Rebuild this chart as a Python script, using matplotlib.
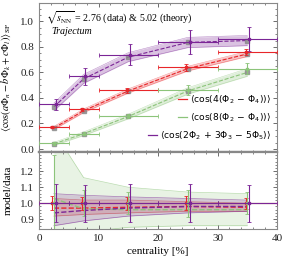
import matplotlib
matplotlib.use("Agg")
import matplotlib.pyplot as plt
from matplotlib.font_manager import FontProperties
from matplotlib.ticker import MultipleLocator, FixedLocator

plt.rcParams['font.family'] = ['Liberation Serif', 'DejaVu Serif']
plt.rcParams['mathtext.fontset'] = 'stix'

# centrality bins
bin_lo = [0, 5, 10, 20, 30]
bin_hi = [5, 10, 20, 30, 40]
x_mid = [2.5, 7.5, 15, 25, 35]

labels = [r'$\langle\cos(4(\Phi_2\,-\,\Phi_4))\rangle$',
          r'$\langle\cos(8(\Phi_2\,-\,\Phi_4))\rangle$',
          r'$\langle\cos(2\Phi_2\,+\,3\Phi_3\,-\,5\Phi_5)\rangle$']

# data (2.76 TeV)
data_red = [0.17, 0.31, 0.46, 0.64, 0.76]
err_red = [0.008, 0.012, 0.018, 0.028, 0.027]
data_green = [0.045, 0.12, 0.26, 0.46, 0.63]
err_green = [0.013, 0.01, 0.018, 0.04, 0.045]
data_purple = [0.35, 0.57, 0.74, 0.84, 0.86]
err_purple = [0.045, 0.066, 0.085, 0.095, 0.095]

# Trajectum 5.02 TeV
th_red = [0.165, 0.30, 0.455, 0.63, 0.745]
th_red_w = [0.012, 0.014, 0.016, 0.018, 0.02]
th_green = [0.04, 0.12, 0.255, 0.455, 0.60]
th_green_w = [0.012, 0.014, 0.018, 0.025, 0.03]
th_purple = [0.33, 0.55, 0.72, 0.835, 0.85]
th_purple_w = [0.03, 0.035, 0.035, 0.04, 0.04]

# ratio panel: relative data errors, model/data and its band
rel_red = [0.045, 0.04, 0.04, 0.045, 0.035]
rel_green = [0.3, 0.08, 0.07, 0.085, 0.07]
rel_purple = [0.12, 0.115, 0.12, 0.12, 0.115]
ratio_red = [0.97, 0.97, 0.975, 0.98, 0.975]
ratio_red_lo = [0.92, 0.93, 0.94, 0.95, 0.95]
ratio_red_hi = [1.03, 1.02, 1.02, 1.01, 1.0]
ratio_green = [1.03, 0.965, 0.96, 0.96, 0.96]
ratio_green_lo = [0.70, 0.82, 0.85, 0.86, 0.86]
ratio_green_hi = [1.45, 1.16, 1.10, 1.07, 1.06]
ratio_purple = [0.94, 0.955, 0.97, 0.98, 0.98]
ratio_purple_lo = [0.86, 0.89, 0.92, 0.94, 0.95]
ratio_purple_hi = [1.06, 1.05, 1.04, 1.03, 1.02]

RED = '#e8262a'
GREEN = '#8cc47a'
PURPLE = '#7b2596'
GREY = '#8a8a8a'

series = [
    (RED, data_red, err_red, th_red, th_red_w, rel_red, ratio_red, ratio_red_lo, ratio_red_hi, -0.3),
    (GREEN, data_green, err_green, th_green, th_green_w, rel_green, ratio_green, ratio_green_lo, ratio_green_hi, 0.0),
    (PURPLE, data_purple, err_purple, th_purple, th_purple_w, rel_purple, ratio_purple, ratio_purple_lo, ratio_purple_hi, 0.3),
]

fig = plt.figure(figsize=(2.83, 2.64), dpi=100)
ax = fig.add_axes([0.138, 0.424, 0.841, 0.565])
axr = fig.add_axes([0.138, 0.133, 0.841, 0.291], sharex=ax)

for i, (c, d, e, th, tw, rel, rat, rlo, rhi, off) in enumerate(series):
    xs = [x + off for x in x_mid]
    xerr = [[x - lo for x, lo in zip(xs, bin_lo)], [hi - x for x, hi in zip(xs, bin_hi)]]
    # theory band + line + points
    lo_band = [t - w for t, w in zip(th, tw)]
    hi_band = [t + w for t, w in zip(th, tw)]
    ax.fill_between(x_mid, lo_band, hi_band, color=c, alpha=0.28, lw=0, zorder=1)
    ax.plot(x_mid, lo_band, color=c, lw=0.4, alpha=0.5, zorder=1)
    ax.plot(x_mid, hi_band, color=c, lw=0.4, alpha=0.5, zorder=1)
    ax.plot(x_mid, th, '--', color=c, lw=0.8, zorder=2)
    ax.plot(x_mid, th, 's', color=GREY, ms=2.5, alpha=0.8, zorder=3)
    # data
    ax.errorbar(xs, d, yerr=e, xerr=xerr, fmt='s', ms=1.8, color=c, lw=0.8,
                capsize=1.2, capthick=0.6, zorder=4)
    # ratio
    axr.fill_between(x_mid, rlo, rhi, color=c, alpha=0.2, lw=0, zorder=1)
    axr.plot(x_mid, rlo, color=c, lw=0.5, alpha=0.6, zorder=1)
    axr.plot(x_mid, rhi, color=c, lw=0.5, alpha=0.6, zorder=1)
    axr.plot(x_mid, rat, '--', color=c, lw=1.0, zorder=2)
    axr.errorbar(xs, [1.0] * 5, yerr=rel, xerr=xerr, fmt='s', ms=1.8, color=c, lw=0.8,
                 capsize=1.2, capthick=0.6, zorder=3 + i)

ax.set_xlim(0, 40)
ax.set_ylim(-0.024, 1.145)
axr.set_ylim(0.84, 1.32)

ax.yaxis.set_major_locator(MultipleLocator(0.2))
ax.yaxis.set_minor_locator(MultipleLocator(0.05))
axr.yaxis.set_major_locator(FixedLocator([0.9, 1.0, 1.1, 1.2]))
axr.yaxis.set_minor_locator(MultipleLocator(0.02))
axr.xaxis.set_major_locator(MultipleLocator(10))
axr.xaxis.set_minor_locator(MultipleLocator(2))

for a in (ax, axr):
    a.tick_params(which='both', direction='in', top=True, right=True, colors='#555555',
                  labelcolor='#222222', labelsize=8)
    a.tick_params(which='major', length=3, width=0.6)
    a.tick_params(which='minor', length=1.6, width=0.5)
    for s in a.spines.values():
        s.set_color('#888888')
        s.set_linewidth(0.8)
ax.spines['bottom'].set_linewidth(1.6)
axr.spines['top'].set_linewidth(1.6)
ax.tick_params(labelbottom=False)

ax.set_ylabel(r'$\langle\cos(a\Phi_n-b\Phi_k+c\Phi_l)\rangle_{\rm SP}$', fontsize=7.5)
axr.set_ylabel('model/data', fontsize=8)
axr.set_xlabel('centrality [%]', fontsize=8, labelpad=3)
ax.yaxis.set_label_coords(-0.11, 0.5)
axr.yaxis.set_label_coords(-0.11, 0.5)

ax.text(0.03, 0.955, r'$\sqrt{s_{\rm NN}}$ = 2.76 (data) & 5.02 (theory)', transform=ax.transAxes,
        fontsize=7.2, va='top', ha='left')
ax.text(0.05, 0.84, 'Trajectum', transform=ax.transAxes, fontsize=7.2, style='italic',
        va='top', ha='left')

# legend: each row right-aligned, short coloured line in front of the text
leg_font = FontProperties(family='DejaVu Sans', size=6.6, math_fontfamily='dejavusans')
leg_y = [0.356, 0.235, 0.114]
leg_texts = []
for lab, yy in zip(labels, leg_y):
    leg_texts.append(ax.text(0.975, yy, lab, transform=ax.transAxes, ha='right', va='center',
                             fontproperties=leg_font, zorder=6))
fig.canvas.draw()
inv = ax.transAxes.inverted()
for t, c, yy in zip(leg_texts, (RED, GREEN, PURPLE), leg_y):
    bb = t.get_window_extent()
    x0 = inv.transform((bb.x0 - 12, 0))[0]
    x1 = inv.transform((bb.x0 - 3, 0))[0]
    ax.plot([x0, x1], [yy, yy], color=c, lw=0.9, transform=ax.transAxes, zorder=6)

fig.savefig('out.png', dpi=100)
